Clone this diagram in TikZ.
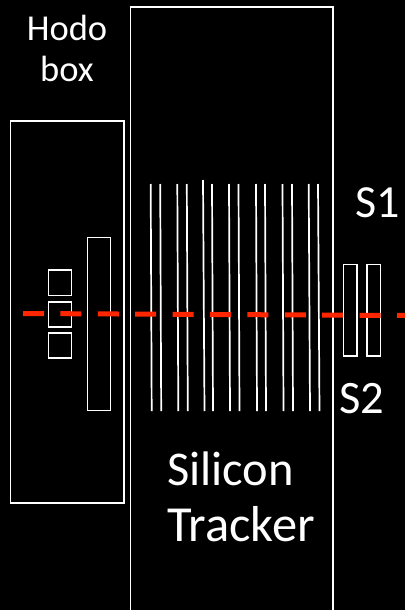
\documentclass[tikz,border=0pt]{standalone}
\usepackage{fontspec}
\setmainfont{Carlito}
\begin{document}
\begin{tikzpicture}[x=1pt,y=-1pt,
  box/.style={draw=white,line width=1.7pt,fill=none},
  strip/.style={draw=white,line width=1.7pt},
  beam/.style={draw={rgb,255:red,255;green,38;blue,0},line width=5pt,dash pattern=on 21pt off 16.4pt},
  lab/.style={text=white,inner sep=0pt,align=left,anchor=base west}]
\fill[black] (0,0) rectangle (405,610);
\useasboundingbox (0,0) rectangle (405,610);
\draw[box] (10.5,121) rectangle (124,503);
\draw[box] (130.5,7) rectangle (333,615);
\draw[box] (87.5,237.5) rectangle (110.5,410.5);
\draw[box] (48.5,270) rectangle (71.5,295.5);
\draw[box] (48.5,302) rectangle (71.5,327);
\draw[box] (48.5,333) rectangle (71.5,358);
\draw[box] (343.5,264.5) rectangle (357,356);
\draw[box] (367,264.5) rectangle (380.5,356);
\foreach \xa/\xb in {150.7/151.7,160.2/161.2,177.3/178.3,186.8/187.8,212/213,229/230,238.5/239.5,256/257,265/266,282.5/283.5,292/293,308.7/310,318/319.5}
  \draw[strip] (\xa,184) -- (\xb,411);
\draw[strip] (203,180) -- (204.5,411);
\coordinate (beamstart) at (23,313.5);
\coordinate (beamend) at (405,315.5);
\draw[beam] (beamstart) -- (beamend);
\node[text=white,inner sep=0pt,align=center,font=\fontsize{36.5pt}{41pt}\selectfont] (hodo) at (67,48.5) {Hodo\\box};
\node[lab,font=\fontsize{48.5pt}{55pt}\selectfont] (silicon) at (167,485) {Silicon};
\node[lab,font=\fontsize{50.5pt}{55pt}\selectfont] (tracker) at (167,541) {Tracker};
\node[lab,font=\fontsize{46pt}{50pt}\selectfont] (s1) at (355.5,217) {S1};
\node[lab,font=\fontsize{46.5pt}{50pt}\selectfont] (s2) at (339,413) {S2};
\end{tikzpicture}
\end{document}
